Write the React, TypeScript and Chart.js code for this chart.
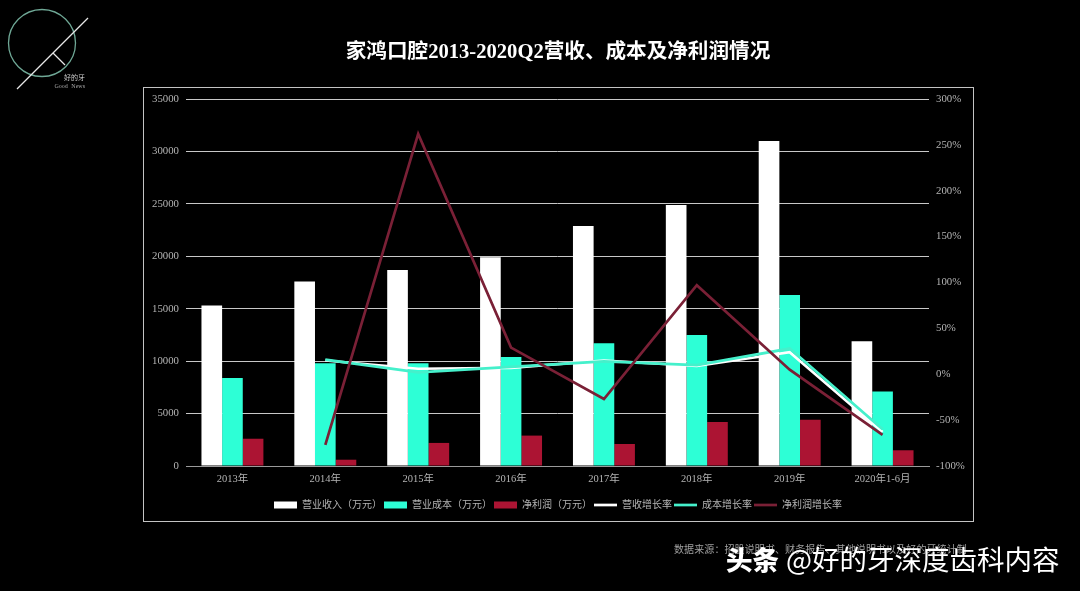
import React, { useEffect, useRef } from "react";
import { Chart, registerables } from "chart.js";

Chart.register(...registerables);

const categories = ["2013年", "2014年", "2015年", "2016年", "2017年", "2018年", "2019年", "2020年1-6月"];
const revenue = [15300, 17600, 18700, 19900, 22900, 24900, 31000, 11900];
const cost = [8400, 9800, 9800, 10400, 11700, 12500, 16300, 7100];
const profit = [2600, 600, 2200, 2900, 2100, 4200, 4400, 1500];
const revenueGrowth = [null, 15, 6, 7, 15, 9, 24, -63];
const costGrowth = [null, 16, 2, 8, 14, 10, 28, -60];
const profitGrowth = [null, -77, 262, 29, -27, 97, 5, -66];

const FONT = '"Liberation Serif", "Noto Sans CJK SC", serif';
const TEXT = "#b4b4b4";
const WHITE = "#ffffff";
const CYAN = "#2dffd6";
const CYAN_LINE = "#45f0cb";
const RED = "#ac1433";
const MAROON = "#7a2036";

export default function App() {
  const ref = useRef<HTMLCanvasElement>(null);
  useEffect(() => {
    document.body.style.margin = "0";
    document.body.style.background = "#000";
    const bar = (label: string, data: number[], color: string, order: number) => ({
      type: "bar" as const, label, data, backgroundColor: color, yAxisID: "y", order,
      barPercentage: 1, categoryPercentage: 0.667, borderWidth: 0,
    });
    const line = (label: string, data: (number | null)[], color: string, order: number) => ({
      type: "line" as const, label, data, borderColor: color, backgroundColor: color, yAxisID: "y1", order,
      borderWidth: 2.7, pointRadius: 0, tension: 0, spanGaps: false,
    });
    const chart = new Chart(ref.current!, {
      data: {
        labels: categories,
        datasets: [
          bar("营业收入（万元）", revenue, WHITE, 3),
          bar("营业成本（万元）", cost, CYAN, 4),
          bar("净利润（万元）", profit, RED, 5),
          line("营收增长率", revenueGrowth, WHITE, 2),
          line("成本增长率", costGrowth, CYAN_LINE, 1),
          line("净利润增长率", profitGrowth, MAROON, 0),
        ],
      } as any,
      options: {
        responsive: false,
        animation: false,
        devicePixelRatio: 1,
        layout: { padding: { left: 143, right: 107, top: 40, bottom: 71 } },
        plugins: {
          title: {
            display: true,
            text: "家鸿口腔2013-2020Q2营收、成本及净利润情况",
            color: "#ffffff",
            font: { family: FONT, size: 20.6, weight: "bold" },
            padding: { top: 0, bottom: 34.3 },
          },
          legend: {
            position: "bottom",
            labels: {
              color: TEXT,
              font: { family: FONT, size: 10 },
              padding: 2,
              usePointStyle: true,
              pointStyleWidth: 23,
              boxHeight: 7,
              generateLabels: (c: any) =>
                c.data.datasets.map((d: any, i: number) => ({
                  text: d.label,
                  fillStyle: d.backgroundColor,
                  strokeStyle: d.type === "line" ? d.borderColor : d.backgroundColor,
                  lineWidth: d.type === "line" ? 2.7 : 0,
                  pointStyle: d.type === "line" ? "line" : "rect",
                  fontColor: TEXT,
                  datasetIndex: i,
                })),
            },
          },
          tooltip: { enabled: false },
        },
        scales: {
          x: {
            grid: { display: false, drawTicks: false },
            border: { color: "#9a9a9a" },
            ticks: { color: TEXT, font: { family: FONT, size: 10.5 }, padding: 7, maxRotation: 0, autoSkip: false },
            afterFit: (s: any) => { s.height = 32; },
          },
          y: {
            position: "left",
            min: 0,
            max: 35000,
            grid: { color: "#c8c8c8", lineWidth: 1, drawTicks: false },
            border: { display: false },
            ticks: { stepSize: 5000, color: TEXT, font: { family: FONT, size: 10.8 }, padding: 7, callback: (v: any) => String(v) },
            afterFit: (s: any) => { s.width = 43; },
          },
          y1: {
            position: "right",
            min: -100,
            max: 300,
            grid: { drawOnChartArea: false, drawTicks: false },
            border: { display: false },
            ticks: { stepSize: 50, color: TEXT, font: { family: FONT, size: 10.8 }, padding: 7, callback: (v: any) => v + "%" },
            afterFit: (s: any) => { s.width = 44; },
          },
        },
      } as any,
    });
    return () => chart.destroy();
  }, []);

  return (
    <div style={{ position: "fixed", left: 0, top: 0, width: 1080, height: 591, background: "#000", overflow: "hidden" }}>
      <canvas ref={ref} width={1080} height={591} style={{ display: "block", position: "absolute", left: 0, top: 0 }} />
      <div style={{ position: "absolute", left: 143, top: 87, width: 829, height: 433, border: "1px solid #c4c4c4" }} />
      <svg width={110} height={100} style={{ position: "absolute", left: 0, top: 0 }}>
        <circle cx={42} cy={43} r={33.5} fill="none" stroke="#6fa896" strokeWidth={1.3} />
        <line x1={17} y1={89} x2={88} y2={18} stroke="#e8e8e8" strokeWidth={1.2} />
        <line x1={53} y1={53} x2={65} y2={65} stroke="#e8e8e8" strokeWidth={1.2} />
        <text x={85} y={80} textAnchor="end" fill="#cfcfcf" fontSize={7} fontFamily={FONT}>好的牙</text>
        <text x={85} y={87.5} textAnchor="end" fill="#a8a8a8" fontSize={6} fontFamily={FONT} wordSpacing={2}>Good News</text>
      </svg>
      <div style={{ position: "absolute", left: 674, top: 541, fontFamily: FONT, fontSize: 10, color: "#a0a0a0", letterSpacing: 0.1, whiteSpace: "nowrap" }}>
        数据来源：招股说明书、财务报告、其他说明书以及好的牙统计制
      </div>
      <div style={{ position: "absolute", left: 726, top: 539, fontFamily: '"Noto Sans CJK SC", sans-serif', color: "#fff", fontSize: 27.5, lineHeight: "38px", whiteSpace: "nowrap" }}>
        <span style={{ fontWeight: 900, fontSize: 26.5, marginRight: 7 }}>头条</span>
        <span style={{ fontWeight: 400 }}>@好的牙深度齿科内容</span>
      </div>
    </div>
  );
}
